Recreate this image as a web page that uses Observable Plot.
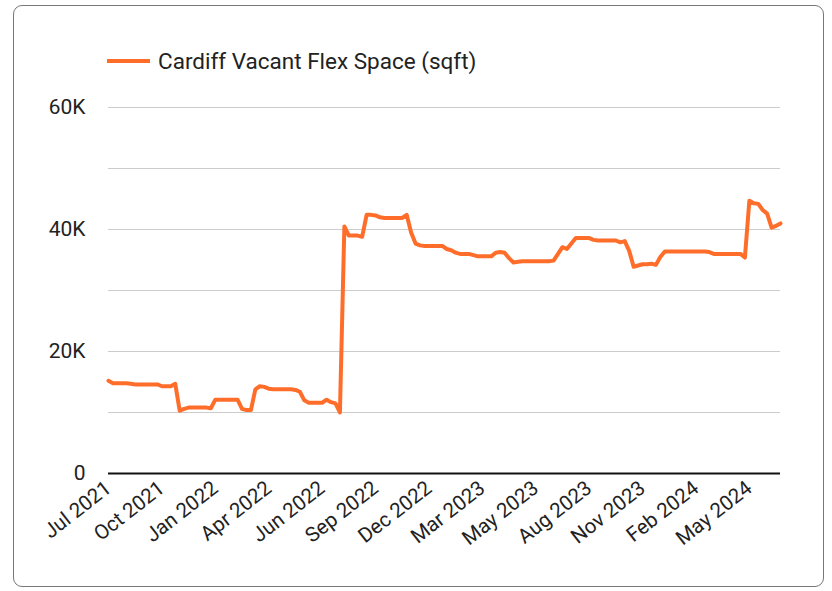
<!DOCTYPE html>
<html>
<head>
<meta charset="utf-8">
<script src="https://cdn.jsdelivr.net/npm/d3@7"></script>
<script src="https://cdn.jsdelivr.net/npm/@observablehq/plot@0.6"></script>
<style>
  html, body { margin: 0; padding: 0; background: #fff; }
  #wrap { position: relative; width: 832px; height: 591px; font-family: Roboto, "Noto Sans", sans-serif; overflow: hidden; }
  #frame { position: absolute; left: 13px; top: 5px; width: 809px; height: 580px; border: 1.5px solid #777; border-radius: 9px; pointer-events: none; }
  #legend { position: relative; height: 80px; }
  #legend .swatch { position: absolute; left: 107px; top: 59px; width: 43px; height: 4px; background: #ff6d2b; }
  #legend .label { position: absolute; left: 158px; top: 48px; font-size: 22.5px; line-height: 26px; color: #222; white-space: nowrap; }
  svg { display: block; }
</style>
</head>
<body>
<div id="wrap">
  <div id="legend"><div class="swatch"></div><div class="label">Cardiff Vacant Flex Space (sqft)</div></div>
  <div id="chart"></div>
  <div id="frame"></div>
</div>
<script>
const seriesName = "Cardiff Vacant Flex Space (sqft)";
const values = [
  15200,14800,14800,14800,14800,14700,14600,14600,14600,14600,
  14600,14600,14300,14300,14300,14700,10300,10600,10800,10800,
  10800,10800,10800,10700,12100,12100,12100,12100,12100,12100,
  10600,10400,10400,13800,14300,14200,13900,13800,13800,13800,
  13800,13800,13700,13400,12000,11600,11600,11600,11600,12100,
  11700,11500,10000,40500,39000,39000,39000,38800,42400,42400,
  42300,42000,41900,41900,41900,41900,41900,42400,39500,37700,
  37400,37300,37300,37300,37300,37300,36800,36600,36200,36000,
  36000,36000,35800,35600,35600,35600,35600,36200,36300,36200,
  35300,34600,34700,34800,34800,34800,34800,34800,34800,34800,
  34900,36000,37100,36800,37700,38600,38600,38600,38600,38300,
  38200,38200,38200,38200,38200,37900,38100,36500,33900,34100,
  34300,34300,34400,34200,35500,36400,36400,36400,36400,36400,
  36400,36400,36400,36400,36400,36300,36000,36000,36000,36000,
  36000,36000,36000,35400,44700,44300,44200,43200,42600,40300,
  40600,41000
];
const tickLabels = ["Jul 2021","Oct 2021","Jan 2022","Apr 2022","Jun 2022","Sep 2022","Dec 2022","Mar 2023","May 2023","Aug 2023","Nov 2023","Feb 2024","May 2024"];
const tickIndex = [0,12,24,36,48,60,72,84,96,108,120,132,144];
const yTicks = [0,20000,40000,60000];
const yGrid = [10000,20000,30000,40000,50000,60000];

const data = values.map((v, i) => ({i, v}));

const chart = Plot.plot({
  width: 832,
  height: 511,
  marginLeft: 108,
  marginRight: 52,
  marginTop: 27,
  marginBottom: 118,
  style: {fontFamily: "Roboto, 'Noto Sans', sans-serif", fontSize: "21px", color: "#222", background: "transparent"},
  x: {domain: [0, values.length - 1]},
  y: {domain: [0, 60000]},
  marks: [
    Plot.ruleY(yGrid, {stroke: "#ccc", strokeWidth: 1.2}),
    Plot.axisY({ticks: yTicks, tickSize: 0, tickPadding: 23, tickFormat: d => d === 0 ? "0" : (d / 1000) + "K", label: null, fontSize: 21}),
    Plot.axisX({ticks: tickIndex, tickSize: 0, tickPadding: 12, tickRotate: -38, tickFormat: (d) => tickLabels[tickIndex.indexOf(d)], label: null, fontSize: 20.5}),
    Plot.ruleY([0], {stroke: "#111", strokeWidth: 2}),
    Plot.line(data, {x: "i", y: "v", stroke: "#ff6d2b", strokeWidth: 4, strokeLinejoin: "round", strokeLinecap: "round"})
  ]
});
document.getElementById("chart").appendChild(chart);
</script>
</body>
</html>
